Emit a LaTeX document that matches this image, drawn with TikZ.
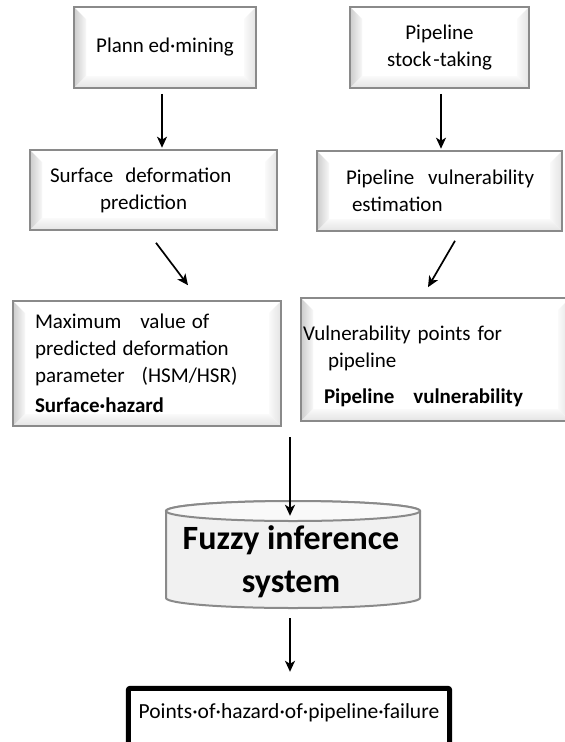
\documentclass[tikz,border=0pt]{standalone}
\usepackage{fontspec}
\setmainfont{Carlito}
\usetikzlibrary{arrows.meta,backgrounds}
\definecolor{boxgray}{HTML}{8A8A8A}
\definecolor{cylfill}{HTML}{F1F1F1}
\definecolor{cyltop}{HTML}{F9F9F9}
\begin{document}
\begin{tikzpicture}[x=1pt,y=-1pt,
  bevel/.style={path picture={
    \coordinate (pa) at (path picture bounding box.south west);
    \coordinate (pb) at (path picture bounding box.north east);
    \shade[left color=gray!40,right color=gray!6] (pa) -- (pa|-pb) -- ([shift={(12pt,-12pt)}]pa|-pb) -- ([shift={(12pt,12pt)}]pa) -- cycle;
    \shade[right color=gray!22,left color=gray!4] (pb) -- (pb|-pa) -- ([shift={(-12pt,12pt)}]pb|-pa) -- ([shift={(-12pt,-12pt)}]pb) -- cycle;
    \shade[bottom color=gray!22,top color=gray!4] (pa) -- (pb|-pa) -- ([shift={(-12pt,12pt)}]pb|-pa) -- ([shift={(12pt,12pt)}]pa) -- cycle;
  }},
  box/.style={draw=boxgray, line width=1.6pt, fill=white, bevel, inner sep=0pt,
    font=\fontsize{21}{27}\selectfont},
  arr/.style={line width=1.7pt, -{Stealth[length=11pt,width=10pt,inset=3pt]}},
  fisfont/.style={font=\fontsize{34}{43}\selectfont\bfseries}
]
\useasboundingbox (0,0) rectangle (565,742);
\clip (0,0) rectangle (565,742);

% boxes
\node[box, minimum width=182pt, minimum height=81pt, align=center] (b1) at (165,47.5) {Plann~ed·mining};
\node[box, minimum width=179pt, minimum height=81pt, align=center] (b2) at (439.5,47.5) {Pipeline\\stock\kern2pt-taking};
\node[box, minimum width=247pt, minimum height=80pt, text width=207pt, align=left] (b3) at (153.5,190)
  {Surface\kern12pt deformation\\\hspace*{50pt}prediction};
\node[box, minimum width=245pt, minimum height=80pt, text width=187pt, align=left] (b4) at (439.5,191)
  {Pipeline\kern14pt vulnerability\\\hspace*{6pt}estimation};
\node[box, minimum width=268pt, minimum height=125pt, text width=224pt, align=left] (b5) at (147,363.5)
  {Maximum\kern19pt value\kern6pt of\\predicted\kern6pt deformation\\parameter\kern17pt (HSM/HSR)\\[3pt]\textbf{Surface·hazard}};
\node[box, minimum width=269pt, minimum height=123pt, text width=265pt, align=left] (b6) at (435.5,359.5)
  {\rule{0pt}{28pt}Vulnerability~points~for\\\hspace*{25pt}pipeline\\[9pt]\hspace*{21pt}\textbf{Pipeline\kern19pt vulnerability}};

% fuzzy inference system
\node[fisfont, align=center, minimum width=254pt, minimum height=92pt, inner sep=0pt] (fis) at (291,562) {Fuzzy~inference\\system};
\begin{scope}[on background layer]
  \path[fill=cylfill, draw=boxgray, line width=2pt] (166,511) -- (166,598)
    arc[start angle=180,end angle=360,x radius=127pt,y radius=10pt] -- (420,511)
    arc[start angle=0,end angle=180,x radius=127pt,y radius=10pt] -- cycle;
  \path[fill=cyltop, draw=boxgray, line width=2pt] (293,511) ellipse[x radius=127pt, y radius=10pt];
\end{scope}

% final box
\node[font=\fontsize{21.5}{24}\selectfont, minimum width=321pt, minimum height=49pt, inner sep=0pt] (b7) at (289,713) {Points·of·hazard·of·pipeline·failure};
\draw[line width=5pt, rounded corners=2pt] ([yshift=-40pt]b7.south west) -- (b7.north west) -- (b7.north east) -- ([yshift=-40pt]b7.south east);

% connectors
\draw[arr, shorten <=5pt, shorten >=1.5pt] ([xshift=-3pt]b1.south) -- ([xshift=-3pt]b1.south |- b3.north);
\draw[arr, shorten <=5pt, shorten >=1.5pt] ([xshift=1.5pt]b2.south) -- ([xshift=1.5pt]b2.south |- b4.north);
\draw[arr] ([xshift=2.5pt,yshift=-12pt]b3.south) -- ([xshift=41pt,yshift=15pt]b5.north);
\draw[arr] ([xshift=15.5pt,yshift=-9pt]b4.south) -- ([xshift=-7.5pt,yshift=10pt]b6.north);
\coordinate (mid) at (290,437);
\draw[arr] (mid) -- (mid |- fis.north);
\draw[arr, shorten <=10pt, shorten >=16.5pt] ([xshift=-1pt]fis.south) -- ([xshift=-1pt]fis.south |- b7.north);
\end{tikzpicture}
\end{document}
